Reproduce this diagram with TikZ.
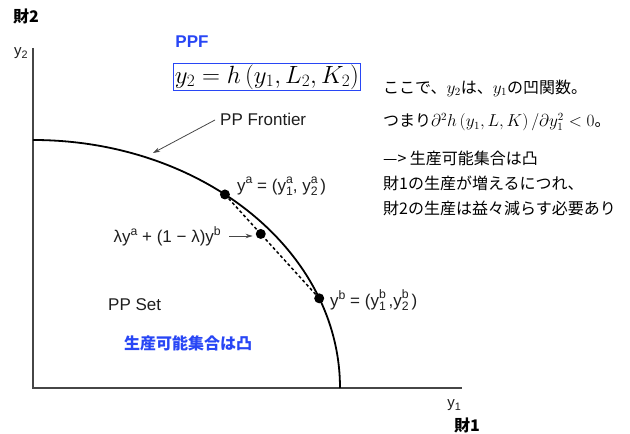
\documentclass[tikz,border=0pt]{standalone}
\usepackage{graphicx}
\usepackage{fontspec}
\setmainfont{Liberation Serif}
\newfontfamily\labf{Liberation Sans}
\newfontfamily\jp{Noto Sans CJK JP}
\usetikzlibrary{arrows.meta,calc}
\definecolor{ppblue}{RGB}{40,70,245}
\definecolor{axisgray}{RGB}{70,70,70}
\definecolor{txt}{RGB}{30,30,30}
\newcommand\lsub[1]{\raisebox{-0.35ex}{\scalebox{0.72}{#1}}}
\newcommand\lsup[1]{\raisebox{0.8ex}{\scalebox{0.72}{#1}}}
\newcommand\lsubsup[2]{\makebox[0pt][l]{\raisebox{0.85ex}{\scalebox{0.72}{#2}}}\raisebox{-0.45ex}{\scalebox{0.72}{#1}}}
\begin{document}
\begin{tikzpicture}[x=1pt,y=1pt,
  lab/.style={font=\labf\fontsize{17}{20}\selectfont, text=txt, inner sep=0pt},
  axlab/.style={font=\labf\fontsize{15}{17}\selectfont, text=txt, inner sep=0pt},
  jpt/.style={font=\jp\fontsize{16}{18}\selectfont, text=black, inner sep=0pt, anchor=west},
  jpbold/.style={font=\jp\bfseries\fontsize{16}{18}\selectfont, text=black, inner sep=0pt},
  dotmark/.style={circle, fill=black, inner sep=0pt, minimum size=10pt},
  ptr/.style={-{Stealth[length=7pt,width=4.5pt]}, line width=0.8pt, axisgray}
]
\useasboundingbox (0,0) rectangle (630,434);

% axes
\coordinate (O) at (33,46);
\coordinate (ytop) at (33,386);
\coordinate (xend) at (462,46);
\draw[axisgray, line width=1.5pt] (ytop) -- (O) -- (xend);

% frontier
\draw[black, line width=1.8pt] (33,294) arc[start angle=90, end angle=0, x radius=307pt, y radius=248pt];
\path (O) ++(51.3:307pt and 248pt) coordinate (ya);
\path (O) ++(21.2:307pt and 248pt) coordinate (yb);
\coordinate (ym) at ($(ya)!0.38!(yb)$);
\draw[black, line width=1.5pt, dash pattern=on 3pt off 2.5pt] (ya) -- (yb);
\node[dotmark] (da) at (ya) {};
\node[dotmark] (db) at (yb) {};
\node[dotmark] (dm) at (ym) {};

% axis labels
\node[jpbold] (g2) at (26,418) {財2};
\node[axlab] (y2) at (21,381) {y\lsub{2}};
\node[axlab] (y1) at (454,29) {y\lsub{1}};
\node[jpbold] (g1) at (467,9) {財1};

% PPF
\node[font=\labf\bfseries\fontsize{17}{20}\selectfont, text=ppblue, inner sep=0pt] (ppft) at (192,392) {PPF};
\node[draw=ppblue, line width=1pt, inner sep=1.5pt, font=\fontsize{25}{28}\selectfont] (ppf) at (267,357) {$y_2 = h\left(y_1, L_2, K_2\right)$};

% labels on graph
\node[lab, anchor=west] (pplab) at (220,315) {PP Frontier};
\coordinate (pftip) at (153,281);
\draw[ptr] ($(pplab.west)+(-5,-1)$) -- (pftip);

\node[lab, anchor=west] (yal) at (237,248) {y\lsup{a} = (y\lsubsup{1}{a}, y\lsubsup{2}{a}\,)};
\node[lab, anchor=west] (ybl) at (330,134) {y\lsup{b} = (y\lsubsup{1}{b}\,,y\lsubsup{2}{b}\,)};
\node[lab, anchor=east] (lam) at (221,198) {λy\lsup{a} + (1 − λ)y\lsup{b}};
\coordinate (lamtip) at ($(dm.west)+(-3,0)$);
\draw[ptr] ($(lam.east)+(8,0)$) -- (lamtip |- lam.east);

\node[lab, anchor=west] (pps) at (108,129) {PP Set};
\node[jpbold, anchor=west, text=ppblue] (conv) at (124,91) {生産可能集合は凸};

% right text
\node[jpt] (r1) at (383,346) {ここで、$y_2$は、$y_1$の凹関数。};
\node[jpt] (r2) at (383,312) {つまり$\partial^2 h\left(y_1, L, K\right)/\partial y_1^2 < 0$。};
\node[jpt] (r3) at (383,276) {—> 生産可能集合は凸};
\node[jpt] (r4) at (383,251) {財1の生産が増えるにつれ、};
\node[jpt] (r5) at (383,226) {財2の生産は益々減らす必要あり};
\end{tikzpicture}
\end{document}
